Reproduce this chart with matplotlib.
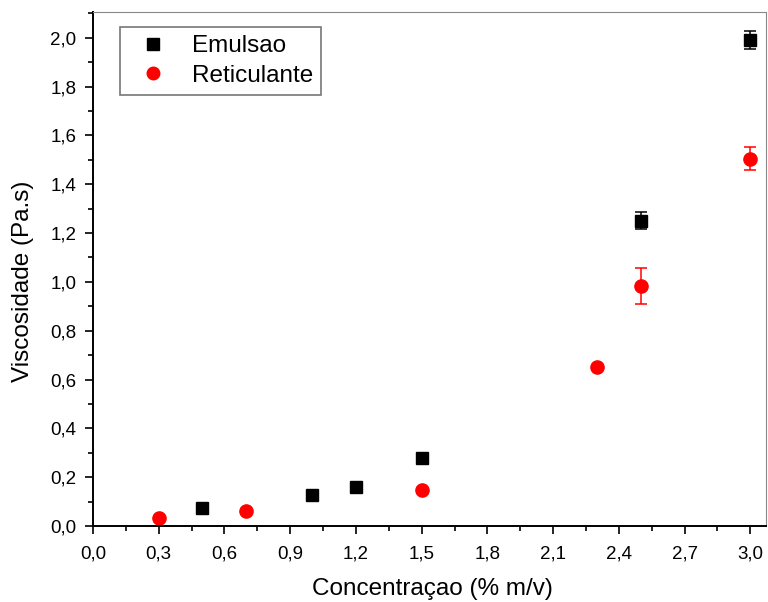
import matplotlib
matplotlib.use('Agg')
import matplotlib.pyplot as plt
from matplotlib.ticker import MultipleLocator, FuncFormatter

plt.rcParams['font.family'] = ['Liberation Sans', 'DejaVu Sans']

# Emulsao series
em_x = [0.5, 1.0, 1.2, 1.5, 2.5, 3.0]
em_y = [0.073, 0.126, 0.16, 0.28, 1.25, 1.99]
em_err = [0, 0, 0, 0, 0.035, 0.037]

# Reticulante series
ret_x = [0.3, 0.7, 1.5, 2.3, 2.5, 3.0]
ret_y = [0.033, 0.06, 0.149, 0.652, 0.985, 1.505]
ret_err = [0, 0, 0, 0, 0.074, 0.046]

fig = plt.figure(figsize=(7.68, 6.02), dpi=100)
ax = fig.add_axes([0.121, 0.126, 0.876, 0.854])

ax.errorbar(em_x, em_y, yerr=em_err, fmt='s', color='black', ms=8.5,
            capsize=4.5, elinewidth=1.1, capthick=1.1, label='Emulsao')
ax.errorbar(ret_x, ret_y, yerr=ret_err, fmt='o', color='red', ms=9.5,
            capsize=4.5, elinewidth=1.1, capthick=1.1, label='Reticulante')

ax.set_xlim(0, 3.07)
ax.set_ylim(0, 2.105)
ax.xaxis.set_major_locator(MultipleLocator(0.3))
ax.xaxis.set_minor_locator(MultipleLocator(0.15))
ax.yaxis.set_major_locator(MultipleLocator(0.2))
ax.yaxis.set_minor_locator(MultipleLocator(0.1))
comma = FuncFormatter(lambda v, p: ('%.1f' % v).replace('.', ','))
ax.xaxis.set_major_formatter(comma)
ax.yaxis.set_major_formatter(comma)

ax.tick_params(which='both', direction='out', top=False, right=False,
               labelsize=13.5, width=1.2, color='black', pad=6)
ax.tick_params(axis='x', pad=8)
ax.tick_params(which='major', length=6)
ax.tick_params(which='minor', length=3.5)
ax.spines['left'].set_linewidth(1.4)
ax.spines['bottom'].set_linewidth(1.4)
ax.spines['top'].set_color('#888888')
ax.spines['right'].set_color('#888888')

ax.set_xlabel('Concentraçao (% m/v)', fontsize=17.5)
ax.set_ylabel('Viscosidade (Pa.s)', fontsize=17.5)
ax.xaxis.set_label_coords(0.504, -0.1)
ax.yaxis.set_label_coords(-0.088, 0.477)

handles, labels = ax.get_legend_handles_labels()
handles = [h[0] for h in handles]
leg = ax.legend(handles, labels, loc='upper left', bbox_to_anchor=(0.04, 0.971),
                borderaxespad=0, fontsize=17.5, frameon=True, fancybox=False,
                edgecolor='#555555', handlelength=2, handletextpad=0.6,
                borderpad=0.35, labelspacing=0.3, markerscale=0.95)
leg.get_frame().set_linewidth(1.2)

fig.savefig('out.png', dpi=100)
